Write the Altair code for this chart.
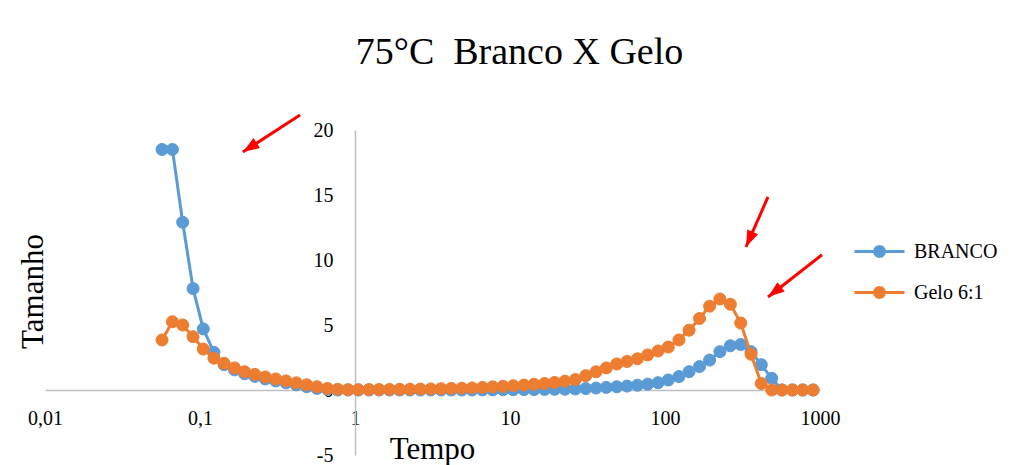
import altair as alt
import pandas as pd

# ---- data ----
tempo = [0.0569, 0.0664, 0.0773, 0.0902, 0.105, 0.123, 0.143, 0.167, 0.194, 0.226,
         0.264, 0.308, 0.359, 0.418, 0.488, 0.569, 0.664, 0.773, 0.902, 1.05,
         1.23, 1.43, 1.67, 1.94, 2.26, 2.64, 3.08, 3.59, 4.18, 4.88,
         5.69, 6.64, 7.73, 9.02, 10.5, 12.3, 14.3, 16.7, 19.4, 22.6,
         26.4, 30.8, 35.9, 41.8, 48.8, 56.9, 66.4, 77.3, 90.2, 105,
         123, 143, 167, 194, 226, 264, 308, 359, 418, 488,
         569, 664, 773, 902]

branco = [18.5, 18.5, 12.9, 7.8, 4.7, 2.9, 1.95, 1.55, 1.25, 1.05,
          0.85, 0.7, 0.55, 0.4, 0.25, 0.12, 0.05, 0.0, 0.0, 0.0,
          0.0, 0.0, 0.0, 0.0, 0.0, 0.0, 0.0, 0.0, 0.0, 0.0,
          0.0, 0.01, 0.01, 0.02, 0.02, 0.03, 0.03, 0.04, 0.05, 0.06,
          0.08, 0.11, 0.15, 0.2, 0.25, 0.3, 0.37, 0.45, 0.56, 0.77,
          1.03, 1.41, 1.8, 2.3, 2.95, 3.4, 3.5, 2.95, 1.95, 0.9,
          0.0, 0.0, 0.0, 0.0]

gelo = [3.85, 5.25, 5.0, 4.1, 3.15, 2.45, 2.05, 1.7, 1.4, 1.2,
        1.0, 0.85, 0.7, 0.55, 0.4, 0.25, 0.12, 0.05, 0.02, 0.02,
        0.03, 0.03, 0.04, 0.05, 0.06, 0.07, 0.08, 0.1, 0.12, 0.14,
        0.16, 0.2, 0.24, 0.28, 0.33, 0.38, 0.44, 0.5, 0.58, 0.68,
        0.8, 1.1, 1.4, 1.7, 2.0, 2.2, 2.4, 2.7, 3.0, 3.3,
        3.85, 4.6, 5.5, 6.45, 7.0, 6.6, 5.15, 2.75, 0.5, 0.0,
        0.0, 0.0, 0.0, 0.0]

series_names = ["BRANCO", "Gelo 6:1"]
series_colors = ["#5B9BD5", "#ED7D31"]
x_ticks = [0.01, 0.1, 1, 10, 100, 1000]
y_ticks = [-5, 0, 5, 10, 15, 20]

# red annotation arrows (data units: tail -> head)
arrow_x_tail = [0.442, 462, 1030]
arrow_y_tail = [21.15, 14.85, 10.4]
arrow_x_head = [0.189, 333, 462]
arrow_y_head = [18.3, 11.0, 7.15]
arrow_angle = [237, 204, 232]

df = pd.DataFrame({
    "Tempo": tempo + tempo,
    "Tamanho": branco + gelo,
    "Serie": [series_names[0]] * len(tempo) + [series_names[1]] * len(tempo),
})
arrows = pd.DataFrame({
    "Tempo": arrow_x_tail, "Tamanho": arrow_y_tail,
    "xh": arrow_x_head, "yh": arrow_y_head, "ang": arrow_angle,
})

FONT = "Liberation Serif"

xscale = alt.Scale(type="log", domain=[0.01, 1000], nice=False)
yscale = alt.Scale(domain=[-5, 20], nice=False, zero=False)

xaxis = alt.Axis(
    values=x_ticks, offset=-65, grid=False, ticks=False,
    domainColor="#BFBFBF", domainWidth=1.5,
    labelFont=FONT, labelFontSize=20, labelColor="black", labelPadding=18,
    labelFlush=False, labelOverlap=False,
    labelExpr="replace(format(datum.value, '~g'), '.', ',')",
    title="Tempo", titleFont=FONT, titleFontSize=31, titleFontWeight="normal",
    titleColor="black", titleX=387, titleY=68, titleAlign="center",
    titleBaseline="alphabetic",
)
yaxis = alt.Axis(
    values=y_ticks, offset=-310, grid=False, ticks=False,
    domainColor="#BFBFBF", domainWidth=1.5,
    labelFont=FONT, labelFontSize=20, labelColor="black", labelPadding=22,
    labelOverlap=False, labelFlush=False,
    labelExpr="replace(datum.label, '\u2212', '-')",
    title="Tamanho", titleFont=FONT, titleFontSize=31, titleFontWeight="normal",
    titleColor="black", titleX=-322, titleY=161, titleAngle=270,
    titleAlign="center", titleBaseline="middle",
)

fill_scale = alt.Scale(domain=series_names, range=series_colors)
stroke_scale = alt.Scale(domain=series_names, range=series_colors)

legend_symbol = ("M-1,0H-0.2M0.2,0H1"
                 "M0.2,0L0.173,0.1L0.1,0.173L0,0.2L-0.1,0.173L-0.173,0.1"
                 "L-0.2,0L-0.173,-0.1L-0.1,-0.173L0,-0.2L0.1,-0.173L0.173,-0.1Z")
leg = alt.Legend(
    title=None, orient="none", legendX=808, legendY=95,
    symbolType=legend_symbol, symbolSize=2500, symbolStrokeWidth=3,
    labelFont=FONT, labelFontSize=20, labelColor="black", labelOffset=8,
    rowPadding=3, padding=0,
)

base = alt.Chart(df).encode(
    x=alt.X("Tempo:Q", scale=xscale, axis=xaxis),
    y=alt.Y("Tamanho:Q", scale=yscale, axis=yaxis),
)

layers = []
for s in series_names:
    sub = base.transform_filter(alt.datum.Serie == s)
    layers.append(
        sub.mark_line(strokeWidth=3).encode(
            stroke=alt.Stroke("Serie:N", scale=stroke_scale, legend=leg)
        )
    )
    layers.append(
        sub.mark_point(filled=True, size=145, strokeWidth=1, opacity=1).encode(
            fill=alt.Fill("Serie:N", scale=fill_scale, legend=leg),
            stroke=alt.Stroke("Serie:N", scale=stroke_scale, legend=leg),
        )
    )

arrow_rules = alt.Chart(arrows).mark_rule(color="#FF0000", strokeWidth=3).encode(
    x=alt.X("Tempo:Q", scale=xscale, axis=xaxis),
    y=alt.Y("Tamanho:Q", scale=yscale, axis=yaxis),
    x2="xh:Q", y2="yh:Q",
)
head_path = "M0,0L0.5,1.4L-0.5,1.4Z"
arrow_heads = alt.Chart(arrows).mark_point(
    shape=head_path, filled=True, color="#FF0000", size=560, opacity=1
).encode(
    x=alt.X("xh:Q", scale=xscale, axis=xaxis),
    y=alt.Y("yh:Q", scale=yscale, axis=yaxis),
    angle=alt.Angle("ang:Q", scale=None),
)

chart = alt.layer(*layers, arrow_rules, arrow_heads).properties(
    width=775, height=325,
    background="white",
    autosize=alt.AutoSizeParams(type="none"),
    padding={"left": 45, "top": 130, "right": 201, "bottom": 10},
    title=alt.TitleParams(
        text="75°C\u00a0 Branco X Gelo", font=FONT, fontSize=38, fontWeight="normal",
        color="black", anchor="middle", frame="group", dx=87, offset=12,
        baseline="alphabetic",
    ),
).configure_view(stroke="transparent", strokeWidth=0)

chart.save("out.html", embed_options={"renderer": "svg", "actions": False})
